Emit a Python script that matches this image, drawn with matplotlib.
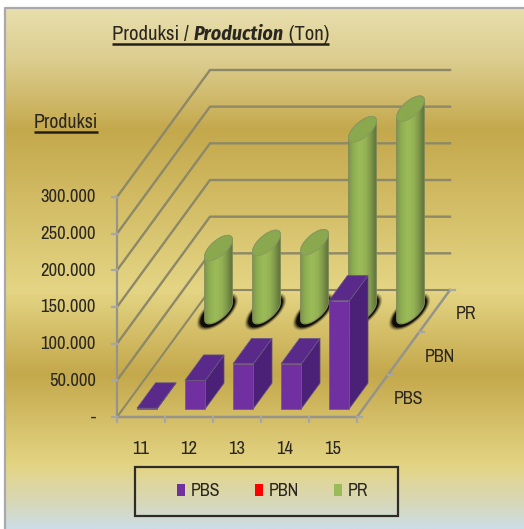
import matplotlib
matplotlib.use("Agg")
import matplotlib.pyplot as plt
import numpy as np
from matplotlib.colors import LinearSegmentedColormap
from matplotlib.patches import Patch, Polygon, Rectangle

plt.rcParams["font.family"] = ["Archivo Narrow", "Liberation Sans", "DejaVu Sans"]
BOLD_ITALIC = ["Fira Sans Condensed", "Liberation Sans", "DejaVu Sans"]

# data
years = ["11", "12", "13", "14", "15"]
series = ["PBS", "PBN", "PR"]
pbs = [500, 38500, 61000, 61000, 147000]
pbn = [0, 0, 0, 0, 0]
pr = [86000, 93000, 94000, 248000, 276000]
y_ticks = [50000, 100000, 150000, 200000, 250000, 300000]
y_labels = ["-", "50.000", "100.000", "150.000", "200.000", "250.000", "300.000"]

# oblique projection of the 3d box, in pixels of the figure
ORIGIN = (117, 417)
CAT_W = 48
DEPTH = (31, -42.33)
PX_PER_UNIT = 36.67 / 50000
TEXT = "#2a2620"
GRID = "#8c8868"
AXIS = "#96948a"


def proj(cat, depth, value):
    """cat and depth in slots, value in tons -> pixel position"""
    x = ORIGIN[0] + cat * CAT_W + depth * DEPTH[0]
    y = ORIGIN[1] + depth * DEPTH[1] - value * PX_PER_UNIT
    return x, y


fig = plt.figure(figsize=(5.24, 5.29), dpi=100)
ax = fig.add_axes([0, 0, 1, 1])
ax.set_xlim(0, 524)
ax.set_ylim(529, 0)
ax.axis("off")

# background
stops = [(0.0, "#e8dfae"), (0.10, "#dccd8e"), (0.234, "#c4a84c"), (0.541, "#e4d584"),
         (0.704, "#c4a84c"), (0.881, "#e4d584"), (0.95, "#d8d8b8"), (1.0, "#cbdde6")]
bg = LinearSegmentedColormap.from_list("bg", stops)
ax.imshow(np.linspace(0, 1, 512)[:, None], cmap=bg, aspect="auto", extent=(6, 524, 529, 8), zorder=0)
ax.plot([5, 5, 524], [529, 8, 8], color="#a9a9ad", lw=1.6, zorder=1)

# walls and floor
for v in y_ticks:
    ax.plot(*zip(proj(0, 0, v), proj(0, 3, v), proj(5, 3, v)), color=GRID, lw=1.7, zorder=2, solid_joinstyle="miter")
ax.plot(*zip(proj(0, 0, 0), proj(0, 3, 0), proj(5, 3, 0)), color=GRID, lw=1.5, zorder=2)
ax.plot(*zip(proj(0, 0, 0), proj(5, 0, 0), proj(5, 3, 0)), color=AXIS, lw=1.8, zorder=2)
ax.plot(*zip(proj(0, 0, 0), proj(0, 0, 300000)), color=AXIS, lw=1.6, zorder=2)

# ticks
for v in [0] + y_ticks:
    x, y = proj(0, 0, v)
    ax.plot([x - 5, x], [y, y], color="#a6a6a6", lw=1.6, zorder=2)
for c in range(6):
    x, y = proj(c, 0, 0)
    ax.plot([x, x], [y, y + 5], color="#a6a6a6", lw=1.6, zorder=2)
for d in range(4):
    x, y = proj(5, d, 0)
    ax.plot([x, x + 5], [y, y], color="#a6a6a6", lw=1.6, zorder=2)

# tick labels
for v, lab in zip([0] + y_ticks, y_labels):
    x, y = proj(0, 0, v)
    ax.text(96, y + 0.5, lab, ha="right", va="center", fontsize=13.4, color=TEXT, zorder=6)
for c, lab in enumerate(years):
    x, y = proj(c + 0.5, 0, 0)
    ax.text(x, 449, lab, ha="center", va="center", fontsize=13.4, color=TEXT, zorder=6)
for d, lab in enumerate(series):
    x, y = proj(5, d + 0.5, 0)
    ax.text(x + 21, y + 3, lab, ha="left", va="center", fontsize=13, color=TEXT, zorder=6)

# titles, three pieces so only the middle one is bold italic
renderer = fig.canvas.get_renderer()
tx = 112
for piece, kw in [("Produksi / ", {"fontsize": 14.9}),
                  ("Production", {"weight": "bold", "style": "italic", "family": BOLD_ITALIC, "fontsize": 14.3}),
                  (" (Ton)", {"fontsize": 14.9})]:
    t = ax.text(tx, 40, piece, ha="left", va="baseline", color=TEXT, zorder=6, **kw)
    tx = ax.transData.inverted().transform(t.get_window_extent(renderer))[1][0]
ax.plot([112, 329], [44, 44], color="#231f1c", lw=1.8, zorder=6, solid_capstyle="butt")
ax.text(34, 128, "Produksi", ha="left", va="baseline", fontsize=14.3, color=TEXT, zorder=6)
ax.plot([34, 98], [132, 132], color="#231f1c", lw=1.8, zorder=6, solid_capstyle="butt")

BAR_W = 0.427  # share of a category slot
BAR_D = 0.6  # share of a depth slot


def draw_box(cat, depth, value, z):
    hw = BAR_W / 2
    hd = BAR_D / 2
    c = cat + 0.5
    d = depth + 0.5
    fl, fr = c - hw, c + hw
    near, far = d - hd, d + hd
    front = [proj(fl, near, 0), proj(fr, near, 0), proj(fr, near, value), proj(fl, near, value)]
    side = [proj(fr, near, 0), proj(fr, far, 0), proj(fr, far, value), proj(fr, near, value)]
    top = [proj(fl, near, value), proj(fr, near, value), proj(fr, far, value), proj(fl, far, value)]
    edge = "#6a5a80"
    ax.add_patch(Polygon(side, fc="#4b2178", ec=edge, lw=0.5, zorder=z))
    ax.add_patch(Polygon(top, fc="#592a8a", ec=edge, lw=0.5, zorder=z))
    ax.add_patch(Polygon(front, fc="#7030a0", ec=edge, lw=0.5, zorder=z))


cyl_cmap = LinearSegmentedColormap.from_list(
    "cyl", ["#7f9a4c", "#93b253", "#9cbb58", "#95b254", "#7d9649", "#596b36"])


def draw_cylinder(cat, depth, value, z):
    a = CAT_W * BAR_W / 2
    bx = DEPTH[0] * BAR_D / 2
    by = DEPTH[1] * BAR_D / 2
    cx, cy0 = proj(cat + 0.5, depth + 0.5, 0)
    _, cy1 = proj(cat + 0.5, depth + 0.5, value)
    h = np.hypot(a, bx)
    t0 = np.arctan2(bx, a)

    # blurred black shadow round the foot
    t = np.linspace(0, 2 * np.pi, 80)
    for grow, alpha in [(6, 0.15), (5, 0.25), (4, 0.45), (3, 0.8)]:
        sx = cx - 1 + (a + grow) * np.cos(t) + (bx + grow * 0.6) * np.sin(t)
        sy = cy0 + 0.5 + (by - grow) * np.sin(t)
        ax.add_patch(Polygon(np.c_[sx, sy], fc="black", ec="none", alpha=alpha, zorder=z))

    low = np.linspace(t0 + np.pi, t0 + 2 * np.pi, 40)
    up = np.linspace(t0, t0 + np.pi, 40)
    px = np.r_[cx + a * np.cos(low) + bx * np.sin(low), cx + a * np.cos(up) + bx * np.sin(up)]
    py = np.r_[cy0 + by * np.sin(low), cy1 + by * np.sin(up)]
    body = Polygon(np.c_[px, py], fc="none", ec="#808a58", lw=0.8, zorder=z + 0.2)
    ax.add_patch(body)
    im = ax.imshow(np.linspace(0, 1, 64)[None, :], cmap=cyl_cmap, aspect="auto",
                   extent=(cx - h, cx + h, py.max(), py.min()), zorder=z + 0.1)
    im.set_clip_path(body)

    ax.add_patch(Polygon(np.c_[cx + a * np.cos(t) + bx * np.sin(t), cy1 + by * np.sin(t)],
                         fc="#8aa84e", ec="#8a9a60", lw=0.7, zorder=z + 0.3))


# back row first, left to right
for i in range(len(years)):
    draw_cylinder(i, 2, pr[i], 3 + i * 0.5)
for i in range(len(years)):
    draw_box(i, 0, pbs[i], 5 + i * 0.1)
ax.set_xlim(0, 524)
ax.set_ylim(529, 0)

# legend, the box is wider than the entries so it gets its own frame
ax.add_patch(Rectangle((135, 467), 263, 49, fc="none", ec="#2f2c28", lw=1.6, zorder=7))
handles = [Patch(fc="#7030a0", ec="none", label="PBS"), Patch(fc="#ff0000", ec="none", label="PBN"),
           Patch(fc="#9bbb59", ec="none", label="PR")]
leg = ax.legend(handles=handles, ncol=3, loc="center", bbox_to_anchor=(272.5 / 524, 1 - 491 / 529),
                frameon=False, fontsize=13,
                handlelength=0.45, handleheight=0.65, handletextpad=0.3, columnspacing=1.95,
                labelcolor=TEXT)
leg.set_zorder(7)

fig.savefig("out.png", dpi=100)
